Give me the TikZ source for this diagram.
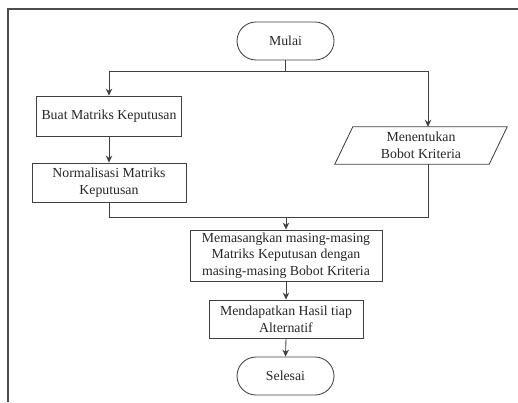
\documentclass[tikz,border=0pt]{standalone}
\usepackage{fontspec}
\setmainfont{Liberation Serif}
\usetikzlibrary{arrows.meta,calc}
\begin{document}
\begin{tikzpicture}[x=1pt,y=-1pt,
  every node/.style={font=\fontsize{13.8}{16.8}\selectfont, text=black!85, align=center, inner sep=0pt},
  line/.style={draw=black!75, line width=0.85pt},
  arr/.style={line, -{Stealth[length=7pt,width=6.5pt]}},
  proc/.style={line, rectangle},
  term/.style={line, rectangle, rounded corners=19pt, minimum width=97pt, minimum height=38pt}
]
\useasboundingbox (0,0) rectangle (518,402);
\draw[draw=black!70, line width=1.4pt] (518,9) -- (8,9) -- (8,402);

\node[term] (mulai) at (285.5,41) {Mulai};
\node[proc, minimum width=145pt, minimum height=40pt] (buat) at (109,116) {Buat Matriks Keputusan};
\node[proc, minimum width=154pt, minimum height=39pt] (norm) at (109,182.5) {Normalisasi Matriks\\Keputusan};
\node[minimum width=154pt, minimum height=37pt] (krit) at (421,145.5) {Menentukan\\Bobot Kriteria};
\draw[line] ([xshift=9pt]krit.north west) -- ([xshift=9pt]krit.north east)
  -- ([xshift=-9pt]krit.south east) -- ([xshift=-9pt]krit.south west) -- cycle;
\node[proc, minimum width=192pt, minimum height=51pt] (memas) at (286,255.5) {Memasangkan masing-masing\\Matriks Keputusan dengan\\masing-masing Bobot Kriteria};
\node[proc, minimum width=154pt, minimum height=38pt] (mend) at (286,319) {Mendapatkan Hasil tiap\\Alternatif};
\node[term] (selesai) at (285.5,376) {Selesai};

\coordinate (split) at (285.5,71);
\coordinate (kritin) at ([xshift=7pt]krit.north);
\coordinate (kritout) at ([xshift=7pt]krit.south);
\coordinate (join) at (286,217);

\draw[line] (mulai.south) -- (split);
\draw[arr] (split) -| (buat.north);
\draw[arr] (split) -| (kritin);
\draw[arr] (buat.south) -- (norm.north);
\draw[line] (norm.south) |- (join);
\draw[line] (kritout) |- (join);
\draw[arr] (join) -- (memas.north);
\draw[arr] (memas.south) -- (mend.north);
\draw[arr] (mend.south) -- (selesai.north);
\end{tikzpicture}
\end{document}
